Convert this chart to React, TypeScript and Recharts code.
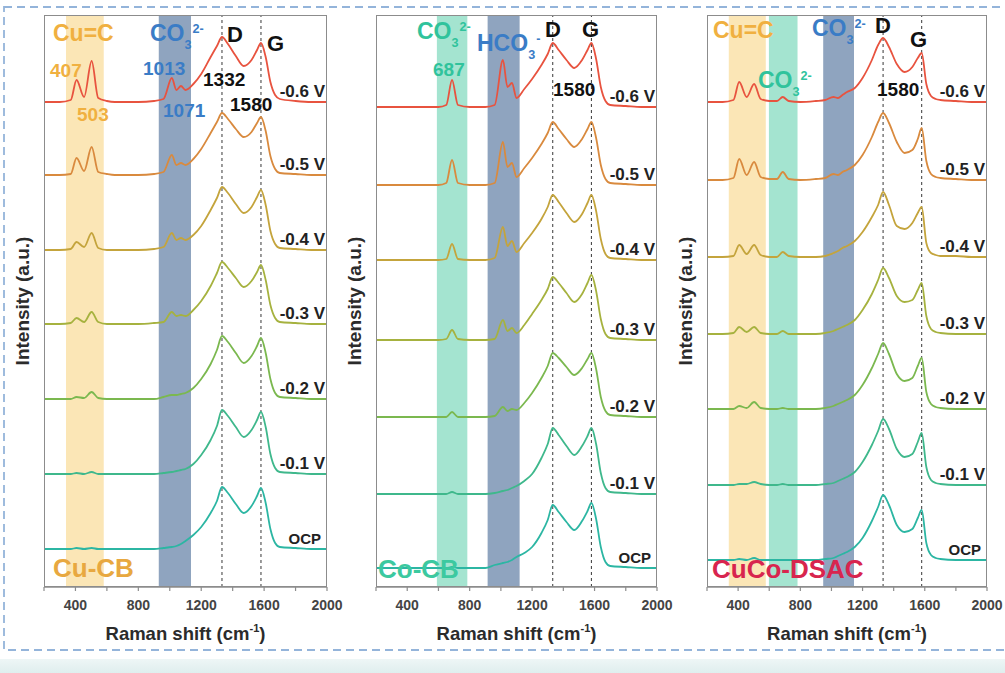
import React from 'react'
import { LineChart, Line, XAxis, YAxis, ReferenceArea, ReferenceLine } from 'recharts'

// Raman shift sample points (cm-1), shared by all three panels
const ramanShift = [
  200, 300, 370, 407, 455, 503, 545, 600, 650, 687, 725, 800, 900, 960, 1013, 1042, 1071, 1100,
  1150, 1200, 1260, 1300, 1332, 1370, 1420, 1470, 1520, 1555, 1580, 1610, 1640, 1670, 1700, 1800, 1900, 2000,
]
const xTicks = [200, 400, 600, 800, 1000, 1200, 1400, 1600, 1800, 2000]
const potentials = ['-0.6 V', '-0.5 V', '-0.4 V', '-0.3 V', '-0.2 V', '-0.1 V', 'OCP']
const seriesColors = ['#e8533f', '#d98a3e', '#c4a43c', '#a6b23f', '#7bb84f', '#3fb88c', '#2cb6a3']
const peakLines = [1332, 1580]

// Cu-CB: baseline of each trace and intensity above it (a.u.)
const cuCbOffsets = [485, 412, 337, 263, 188, 113, 38]
const cuCbSpectra = [
  [0, 0, 2, 22, 5, 41, 4, 1, 0, 0, 0, 0, 1, 3, 24, 12, 16, 12, 18, 28, 45, 56, 65, 58, 46, 36, 42, 52, 59, 45, 20, 7, 3, 1, 0, 0],
  [0, 0, 1, 17, 4, 28, 3, 1, 0, 0, 0, 0, 1, 3, 20, 10, 12, 10, 16, 26, 42, 53, 62, 56, 46, 38, 43, 52, 58, 44, 19, 6, 2, 1, 0, 0],
  [0, 0, 1, 8, 3, 17, 2, 0, 0, 0, 0, 0, 1, 3, 17, 10, 12, 10, 15, 24, 40, 52, 63, 57, 46, 37, 43, 53, 60, 45, 19, 6, 2, 1, 0, 0],
  [0, 0, 1, 6, 2, 12, 2, 0, 0, 0, 0, 0, 1, 2, 12, 8, 9, 8, 14, 23, 38, 51, 62, 56, 46, 37, 43, 52, 59, 44, 19, 6, 2, 1, 0, 0],
  [0, 0, 0, 2, 1, 7, 1, 0, 0, 0, 0, 0, 0, 2, 4, 4, 5, 6, 11, 20, 35, 49, 63, 57, 46, 36, 43, 53, 61, 46, 20, 6, 2, 1, 0, 0],
  [0, 0, 0, 1, 0, 2, 0, 0, 0, 0, 0, 0, 0, 1, 2, 3, 4, 5, 10, 19, 34, 48, 64, 58, 47, 37, 44, 54, 62, 47, 20, 6, 2, 1, 0, 0],
  [0, 0, 0, 1, 0, 1, 0, 0, 0, 0, 0, 0, 0, 1, 2, 3, 5, 8, 14, 22, 36, 48, 62, 56, 45, 36, 43, 53, 61, 46, 20, 6, 2, 1, 0, 0],
]

// Co-CB
const coCbOffsets = [480, 402, 327, 247, 170, 93, 19]
const coCbSpectra = [
  [0, 0, 0, 0, 0, 0, 0, 0, 2, 27, 2, 0, 0, 2, 47, 20, 24, 9, 18, 28, 42, 53, 64, 57, 47, 39, 47, 57, 64, 48, 20, 6, 2, 1, 0, 0],
  [0, 0, 0, 0, 0, 0, 0, 0, 2, 25, 2, 0, 0, 2, 43, 18, 22, 8, 17, 27, 41, 52, 63, 56, 46, 38, 46, 56, 63, 47, 20, 6, 2, 1, 0, 0],
  [0, 0, 0, 0, 0, 0, 0, 0, 1, 16, 1, 0, 0, 2, 33, 14, 19, 8, 17, 27, 41, 53, 65, 58, 47, 38, 46, 57, 65, 49, 21, 6, 2, 1, 0, 0],
  [0, 0, 0, 0, 0, 0, 0, 0, 1, 10, 1, 0, 0, 1, 20, 9, 12, 7, 15, 26, 40, 51, 63, 57, 47, 38, 46, 57, 65, 49, 21, 6, 2, 1, 0, 0],
  [0, 0, 0, 0, 0, 0, 0, 0, 0, 5, 0, 0, 0, 1, 10, 6, 8, 7, 14, 24, 39, 51, 64, 59, 50, 42, 49, 58, 64, 48, 20, 6, 2, 1, 0, 0],
  [0, 0, 0, 0, 0, 0, 0, 0, 0, 2, 0, 0, 0, 1, 3, 4, 6, 8, 13, 20, 36, 50, 66, 59, 48, 39, 48, 58, 66, 50, 21, 6, 2, 1, 0, 0],
  [0, 0, 0, 0, 0, 0, 0, 0, 0, 1, 0, 0, 0, 3, 5, 6, 8, 11, 15, 21, 35, 48, 63, 56, 46, 38, 47, 57, 65, 49, 21, 6, 2, 1, 0, 0],
]

// CuCo-DSAC
const cucoOffsets = [485, 407, 330, 253, 178, 102, 27]
const cucoSpectra = [
  [0, 0, 2, 20, 5, 18, 3, 1, 1, 5, 1, 0, 1, 2, 5, 4, 7, 10, 14, 24, 42, 57, 64, 55, 38, 30, 35, 44, 49, 18, 6, 3, 2, 1, 0, 0],
  [0, 0, 2, 21, 5, 18, 3, 1, 1, 8, 1, 0, 1, 2, 6, 5, 8, 10, 15, 25, 43, 58, 67, 57, 38, 27, 30, 41, 52, 19, 6, 3, 2, 1, 0, 0],
  [0, 0, 1, 12, 3, 12, 2, 0, 0, 5, 1, 0, 0, 1, 4, 6, 9, 11, 16, 25, 40, 52, 65, 52, 31, 28, 34, 44, 50, 14, 4, 2, 1, 1, 0, 0],
  [0, 0, 1, 7, 2, 7, 1, 0, 0, 3, 0, 0, 0, 1, 3, 5, 7, 9, 14, 24, 40, 54, 66, 56, 38, 32, 34, 44, 51, 18, 5, 2, 1, 0, 0, 0],
  [0, 0, 0, 3, 1, 7, 1, 0, 0, 1, 0, 0, 0, 1, 3, 5, 7, 9, 14, 24, 41, 55, 66, 55, 35, 28, 31, 43, 51, 17, 5, 2, 1, 0, 0, 0],
  [0, 0, 0, 1, 1, 3, 1, 0, 0, 1, 0, 0, 0, 1, 2, 4, 6, 8, 13, 23, 40, 54, 66, 56, 36, 28, 31, 43, 52, 18, 5, 2, 1, 0, 0, 0],
  [0, 0, 0, 1, 0, 2, 0, 0, 0, 0, 0, 0, 0, 1, 2, 4, 6, 8, 13, 22, 39, 53, 65, 55, 35, 28, 31, 42, 50, 17, 5, 2, 1, 0, 0, 0],
]

const YELLOW_BAND = '#fbe6b6'
const TEAL_BAND = '#a4e4d0'
const BLUE_BAND = '#8fa4bf'

const cuCbBands = [
  { x1: 340, x2: 580, fill: YELLOW_BAND },
  { x1: 930, x2: 1135, fill: BLUE_BAND },
]
const coCbBands = [
  { x1: 590, x2: 785, fill: TEAL_BAND },
  { x1: 915, x2: 1120, fill: BLUE_BAND },
]
const cucoBands = [
  { x1: 340, x2: 578, fill: YELLOW_BAND },
  { x1: 598, x2: 782, fill: TEAL_BAND },
  { x1: 947, x2: 1145, fill: BLUE_BAND },
]

const FONT = '"Liberation Sans", Arial, Helvetica, sans-serif'
const W = 1005
const H = 673
const PLOT_TOP = 15
const PLOT_BOTTOM = 587
const Y_MAX = PLOT_BOTTOM - PLOT_TOP
const AXIS_H = 30
const PAD = 22

const YELLOW = '#f0b040'
const BLUE = '#3a7cc6'
const TEAL = '#30c39c'

const buildRows = (spectra: number[][], offsets: number[]) =>
  ramanShift.map((x, i) => {
    const row: Record<string, number> = { x }
    spectra.forEach((s, k) => {
      row['s' + k] = offsets[k] + s[i]
    })
    return row
  })

const Txt = ({ x, y, size, color = '#111', children }: any) => (
  <div
    style={{
      position: 'absolute',
      left: x,
      top: y - 0.13 * size,
      fontSize: size,
      lineHeight: 1,
      color,
      fontWeight: 700,
      whiteSpace: 'nowrap',
    }}
  >
    {children}
  </div>
)

const Ion = ({ base, sub, sup }: { base: string; sub: string; sup: string }) => (
  <span>
    {base}
    <span style={{ position: 'relative', top: '0.62em', fontSize: '0.55em' }}>{sub}</span>
    <span style={{ position: 'relative', top: '-0.6em', fontSize: '0.55em', marginLeft: '0.08em' }}>{sup}</span>
  </span>
)

const Panel = ({ boxLeft, boxRight, spectra, offsets, bands }: any) => {
  const w = boxRight - boxLeft
  const rows = buildRows(spectra, offsets)
  return (
    <>
      <div style={{ position: 'absolute', left: boxLeft - PAD, top: 0 }}>
        <LineChart
          width={w + 2 * PAD}
          height={H}
          data={rows}
          margin={{ top: PLOT_TOP, right: PAD, bottom: H - PLOT_BOTTOM - AXIS_H, left: PAD }}
        >
          <XAxis
            dataKey="x"
            type="number"
            domain={[200, 2000]}
            ticks={xTicks}
            allowDataOverflow
            height={AXIS_H}
            tickSize={4}
            tickMargin={9}
            tickFormatter={(v: number) => (v % 400 === 0 ? String(v) : '')}
            axisLine={{ stroke: '#8c8c8c', strokeWidth: 1.5 }}
            tickLine={{ stroke: '#8c8c8c', strokeWidth: 1.2 }}
            tick={{ fontSize: 14, fontWeight: 700, fill: '#444', fontFamily: FONT }}
          />
          <YAxis hide type="number" domain={[0, Y_MAX]} allowDataOverflow />
          {bands.map((b: any) => (
            <ReferenceArea key={b.x1} x1={b.x1} x2={b.x2} fill={b.fill} fillOpacity={1} stroke="none" />
          ))}
          {peakLines.map((x) => (
            <ReferenceLine key={x} x={x} stroke="#4a4a4a" strokeWidth={1.1} strokeDasharray="3 3" />
          ))}
          {spectra.map((_: number[], k: number) => (
            <Line
              key={k}
              dataKey={'s' + k}
              type="monotone"
              stroke={seriesColors[k]}
              strokeWidth={1.8}
              dot={false}
              isAnimationActive={false}
            />
          ))}
        </LineChart>
      </div>
      <div
        style={{
          position: 'absolute',
          left: boxLeft,
          top: PLOT_TOP,
          width: w,
          height: Y_MAX,
          border: '1.5px solid #8c8c8c',
          boxSizing: 'border-box',
          pointerEvents: 'none',
        }}
      />
      {potentials.map((p, k) => (
        <div
          key={p}
          style={{
            position: 'absolute',
            left: boxRight - (p === 'OCP' ? 6 : 2),
            top: PLOT_BOTTOM - offsets[k] - 11,
            transform: 'translate(-100%, -50%)',
            fontSize: p === 'OCP' ? 15 : 17,
            lineHeight: 1,
            fontWeight: 700,
            color: '#222',
            whiteSpace: 'nowrap',
          }}
        >
          {p}
        </div>
      ))}
      <div
        style={{
          position: 'absolute',
          left: (boxLeft + boxRight) / 2,
          top: 627 - 0.13 * 18.5,
          transform: 'translateX(-50%)',
          fontSize: 18.5,
          lineHeight: 1,
          fontWeight: 700,
          color: '#2b2b2b',
          whiteSpace: 'nowrap',
        }}
      >
        Raman shift (cm
        <span style={{ position: 'relative', top: '-0.7em', fontSize: '0.6em' }}>-1</span>)
      </div>
      <div
        style={{
          position: 'absolute',
          left: boxLeft - 22,
          top: 301,
          transform: 'translate(-50%, -50%) rotate(-90deg)',
          fontSize: 19,
          lineHeight: 1,
          fontWeight: 700,
          color: '#2b2b2b',
          whiteSpace: 'nowrap',
        }}
      >
        Intensity (a.u.)
      </div>
    </>
  )
}

export default function App() {
  return (
    <div
      style={{
        position: 'absolute',
        left: 0,
        top: 0,
        width: W,
        height: H,
        overflow: 'hidden',
        background: '#fff',
        fontFamily: FONT,
      }}
    >
      <svg width={W} height={H} style={{ position: 'absolute', left: 0, top: 0 }}>
        <rect x={4} y={7} width={1030} height={643} fill="none" stroke="#94b4da" strokeWidth={1.8} strokeDasharray="8 5" />
      </svg>
      <div
        style={{
          position: 'absolute',
          left: 0,
          top: 659,
          width: W,
          height: H - 659,
          background: 'linear-gradient(#eef6f6, #dfeeee)',
        }}
      />

      <Panel boxLeft={44} boxRight={327} spectra={cuCbSpectra} offsets={cuCbOffsets} bands={cuCbBands} />
      <Panel boxLeft={376} boxRight={657} spectra={coCbSpectra} offsets={coCbOffsets} bands={coCbBands} />
      <Panel boxLeft={707} boxRight={987} spectra={cucoSpectra} offsets={cucoOffsets} bands={cucoBands} />

      {/* Cu-CB annotations */}
      <Txt x={53} y={25} size={23} color={YELLOW}>Cu=C</Txt>
      <Txt x={150} y={25} size={23} color={BLUE}><Ion base="CO" sub="3" sup="2-" /></Txt>
      <Txt x={227} y={27} size={22}>D</Txt>
      <Txt x={267} y={36} size={22}>G</Txt>
      <Txt x={50} y={63} size={19} color={YELLOW}>407</Txt>
      <Txt x={77} y={107} size={19} color={YELLOW}>503</Txt>
      <Txt x={143} y={61} size={19} color={BLUE}>1013</Txt>
      <Txt x={163} y={103} size={19} color={BLUE}>1071</Txt>
      <Txt x={203} y={72} size={19}>1332</Txt>
      <Txt x={230} y={97} size={19}>1580</Txt>
      <Txt x={53} y={558} size={26} color="#e8a840">Cu-CB</Txt>

      {/* Co-CB annotations */}
      <Txt x={417} y={23} size={23} color={TEAL}><Ion base="CO" sub="3" sup="2-" /></Txt>
      <Txt x={477} y={35} size={23} color={BLUE}><Ion base="HCO" sub="3" sup="-" /></Txt>
      <Txt x={545} y={22} size={22}>D</Txt>
      <Txt x={582} y={22} size={22}>G</Txt>
      <Txt x={433} y={62} size={19} color={TEAL}>687</Txt>
      <Txt x={553} y={82} size={19}>1580</Txt>
      <Txt x={378} y={559} size={26} color="#3cc9a0">Co-CB</Txt>

      {/* CuCo-DSAC annotations */}
      <Txt x={713} y={22} size={23} color={YELLOW}>Cu=C</Txt>
      <Txt x={812} y={20} size={23} color={BLUE}><Ion base="CO" sub="3" sup="2-" /></Txt>
      <Txt x={875} y={18} size={22}>D</Txt>
      <Txt x={910} y={32} size={22}>G</Txt>
      <Txt x={758} y={72} size={23} color={TEAL}><Ion base="CO" sub="3" sup="2-" /></Txt>
      <Txt x={877} y={82} size={19}>1580</Txt>
      <Txt x={712} y={559} size={26} color="#d8254e">CuCo-DSAC</Txt>
    </div>
  )
}
